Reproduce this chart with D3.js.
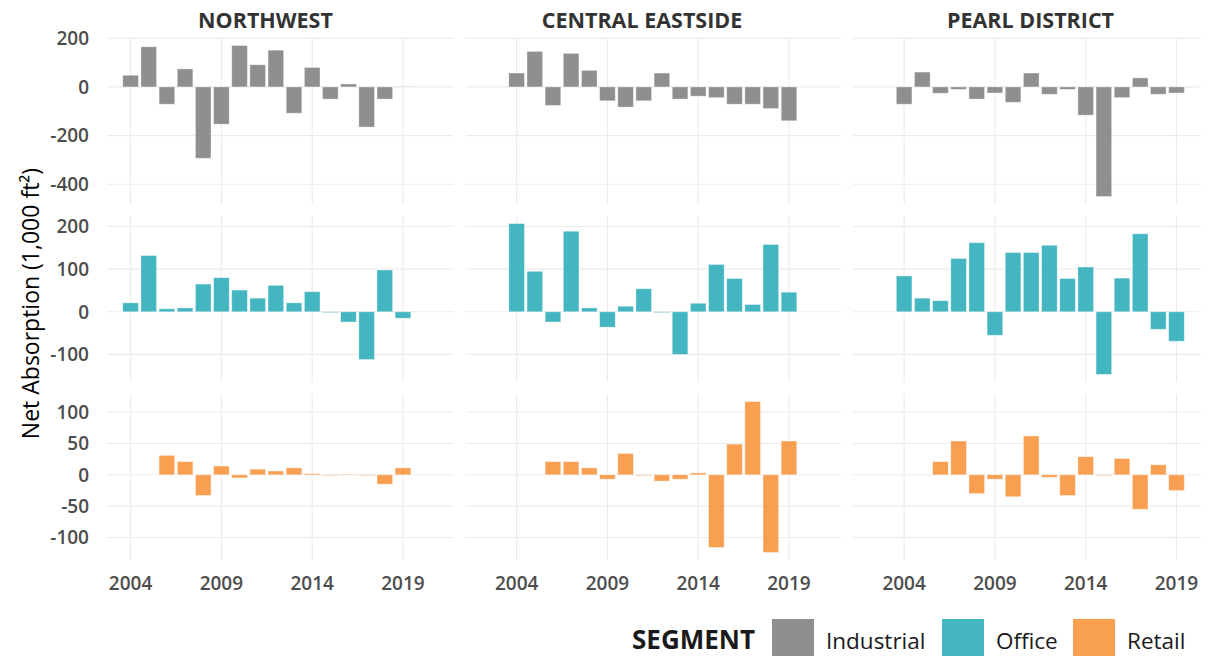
<!DOCTYPE html>
<html>
<head>
<meta charset="utf-8">
<script src="https://cdn.jsdelivr.net/npm/d3@7/dist/d3.min.js"></script>
<style>
  html, body { margin: 0; padding: 0; background: #fff; }
  svg { display: block; font-family: "Open Sans", "Noto Sans", sans-serif; }
</style>
</head>
<body>
<svg id="chart" width="1215" height="656"></svg>
<script>
// Net absorption by year, thousands of square feet
const years = [2004, 2005, 2006, 2007, 2008, 2009, 2010, 2011, 2012, 2013, 2014, 2015, 2016, 2017, 2018, 2019];
const districts = ["NORTHWEST", "CENTRAL EASTSIDE", "PEARL DISTRICT"];
const segments = ["Industrial", "Office", "Retail"];
const segmentColors = ["#7f7f7f", "#2aacb8", "#f7923a"];

const industrialNorthwest = [48, 165, -71, 74, -293, -153, 170, 91, 151, -108, 80, -50, 12, -165, -50, 1];
const industrialCentralEastside = [57, 146, -76, 138, 68, -57, -83, -57, 57, -50, -38, -44, -71, -71, -89, -139];
const industrialPearl = [-71, 61, -26, -10, -50, -25, -63, 57, -30, -10, -116, -450, -44, 37, -30, -25];

const officeNorthwest = [21, 132, 7, 9, 65, 80, 51, 32, 62, 21, 47, -2, -24, -112, 98, -15];
const officeCentralEastside = [207, 95, -24, 189, 9, -36, 13, 54, -2, -100, 20, 111, 78, 17, 158, 46];
const officePearl = [84, 32, 26, 125, 162, -55, 139, 139, 156, 78, 105, -147, 79, 183, -41, -69];

const retailNorthwest = [null, null, 31, 21, -33, 14, -5, 9, 6, 11, 2, -1, 1, -1, -15, 11];
const retailCentralEastside = [null, null, 21, 21, 11, -7, 34, -1, -10, -7, 3, -116, 49, 117, -124, 54];
const retailPearl = [null, null, 21, 54, -30, -7, -35, 62, -4, -33, 29, -1, 26, -55, 16, -25];

// Visible year range of each district's panel (free x scales)
const yearExtents = [[2002.7, 2021.8], [2001.2, 2021.88], [2001.2, 2020.35]];

const xTicks = [2004, 2009, 2014, 2019];
const yTicks = [[200, 0, -200, -400], [200, 100, 0, -100], [100, 50, 0, -50, -100]];

const grid = [
  [industrialNorthwest, industrialCentralEastside, industrialPearl],
  [officeNorthwest, officeCentralEastside, officePearl],
  [retailNorthwest, retailCentralEastside, retailPearl]
];

// Panel layout
const plotLeft = 107, plotRight = 1201, colGap = 12;
const rowTops = [38, 216, 394], rowHeight = 166;
const spans = yearExtents.map(e => e[1] - e[0]);
const pxPerYear = (plotRight - plotLeft - colGap * 2) / d3.sum(spans);
const colLefts = [];
{
  let x = plotLeft;
  spans.forEach(s => { colLefts.push(x); x += s * pxPerYear + colGap; });
}
const barWidthYears = 0.86;
const stripCenters = [265.5, 642, 1030.5];

const svg = d3.select("#chart");

// y scale per segment row, shared across districts, padded by 5%
const yScales = grid.map((row, r) => {
  const vals = row.flat().filter(v => v != null);
  const lo = Math.min(0, d3.min(vals)), hi = Math.max(0, d3.max(vals));
  const pad = (hi - lo) * 0.05;
  return d3.scaleLinear().domain([lo - pad, hi + pad]).range([rowTops[r] + rowHeight, rowTops[r]]);
});

const xScales = yearExtents.map((ext, c) =>
  d3.scaleLinear().domain(ext).range([colLefts[c], colLefts[c] + spans[c] * pxPerYear]));

const gridColor = "#ebebeb";
const tickColor = "#4d4d4d";

for (let r = 0; r < 3; r++) {
  const y = yScales[r];
  const [bottom, top] = y.range();
  for (let c = 0; c < 3; c++) {
    const x = xScales[c];
    const g = svg.append("g");
    const [x0, x1] = x.range();

    // gridlines
    g.selectAll("line.h").data(yTicks[r]).join("line")
      .attr("x1", x0).attr("x2", x1)
      .attr("y1", d => y(d)).attr("y2", d => y(d))
      .attr("stroke", gridColor).attr("stroke-width", 1.1);
    g.selectAll("line.v").data(xTicks).join("line")
      .attr("x1", d => x(d)).attr("x2", d => x(d))
      .attr("y1", top).attr("y2", bottom)
      .attr("stroke", gridColor).attr("stroke-width", 1.1);

    // bars
    const series = grid[r][c];
    const bw = x(years[0] + barWidthYears) - x(years[0]);
    g.selectAll("rect").data(years.map((yr, i) => ({ yr, v: series[i] })).filter(d => d.v != null))
      .join("rect")
      .attr("x", d => x(d.yr) - bw / 2)
      .attr("width", bw)
      .attr("y", d => Math.min(y(d.v), y(0)))
      .attr("height", d => Math.abs(y(d.v) - y(0)))
      .attr("fill", segmentColors[r])
      .attr("fill-opacity", 0.88)
      .attr("stroke", "#ffffff")
      .attr("stroke-opacity", 0.45)
      .attr("stroke-width", 0.8);

    // year axis under bottom row
    if (r === 2) {
      g.selectAll("text.xt").data(xTicks).join("text")
        .attr("x", d => x(d)).attr("y", bottom + 23)
        .attr("dy", "0.36em")
        .attr("text-anchor", "middle")
        .attr("font-size", 19).attr("font-weight", 600).attr("fill", tickColor)
        .text(d => d);
    }
  }
  // value axis on the left column
  svg.append("g").selectAll("text").data(yTicks[r]).join("text")
    .attr("x", 89).attr("y", d => y(d))
    .attr("dy", "0.36em")
    .attr("text-anchor", "end")
    .attr("font-size", 19).attr("font-weight", 600).attr("fill", tickColor)
    .text(d => d);
}

// strip titles
districts.forEach((name, c) => {
  svg.append("text")
    .attr("x", stripCenters[c]).attr("y", 28)
    .attr("text-anchor", "middle")
    .attr("font-size", 21.5).attr("font-weight", 700)
    .attr("fill", "#333333")
    .text(name);
});

// y axis title
svg.append("text")
  .attr("transform", "translate(39, 303.5) rotate(-90)")
  .attr("text-anchor", "middle")
  .attr("font-size", 23).attr("fill", "#000")
  .text("Net Absorption (1,000 ft²)");

// legend
const legend = svg.append("g");
legend.append("text")
  .attr("x", 632).attr("y", 649)
  .attr("font-size", 26).attr("font-weight", 700).attr("fill", "#1a1a1a")
  .text("SEGMENT");
const keyX = [772, 942, 1073];
segments.forEach((s, i) => {
  legend.append("rect")
    .attr("x", keyX[i]).attr("y", 619)
    .attr("width", 42).attr("height", 40)
    .attr("fill", segmentColors[i]).attr("fill-opacity", 0.88);
  legend.append("text")
    .attr("x", keyX[i] + 54).attr("y", 649)
    .attr("font-size", 22.5).attr("fill", "#1a1a1a")
    .text(s);
});
</script>
</body>
</html>
